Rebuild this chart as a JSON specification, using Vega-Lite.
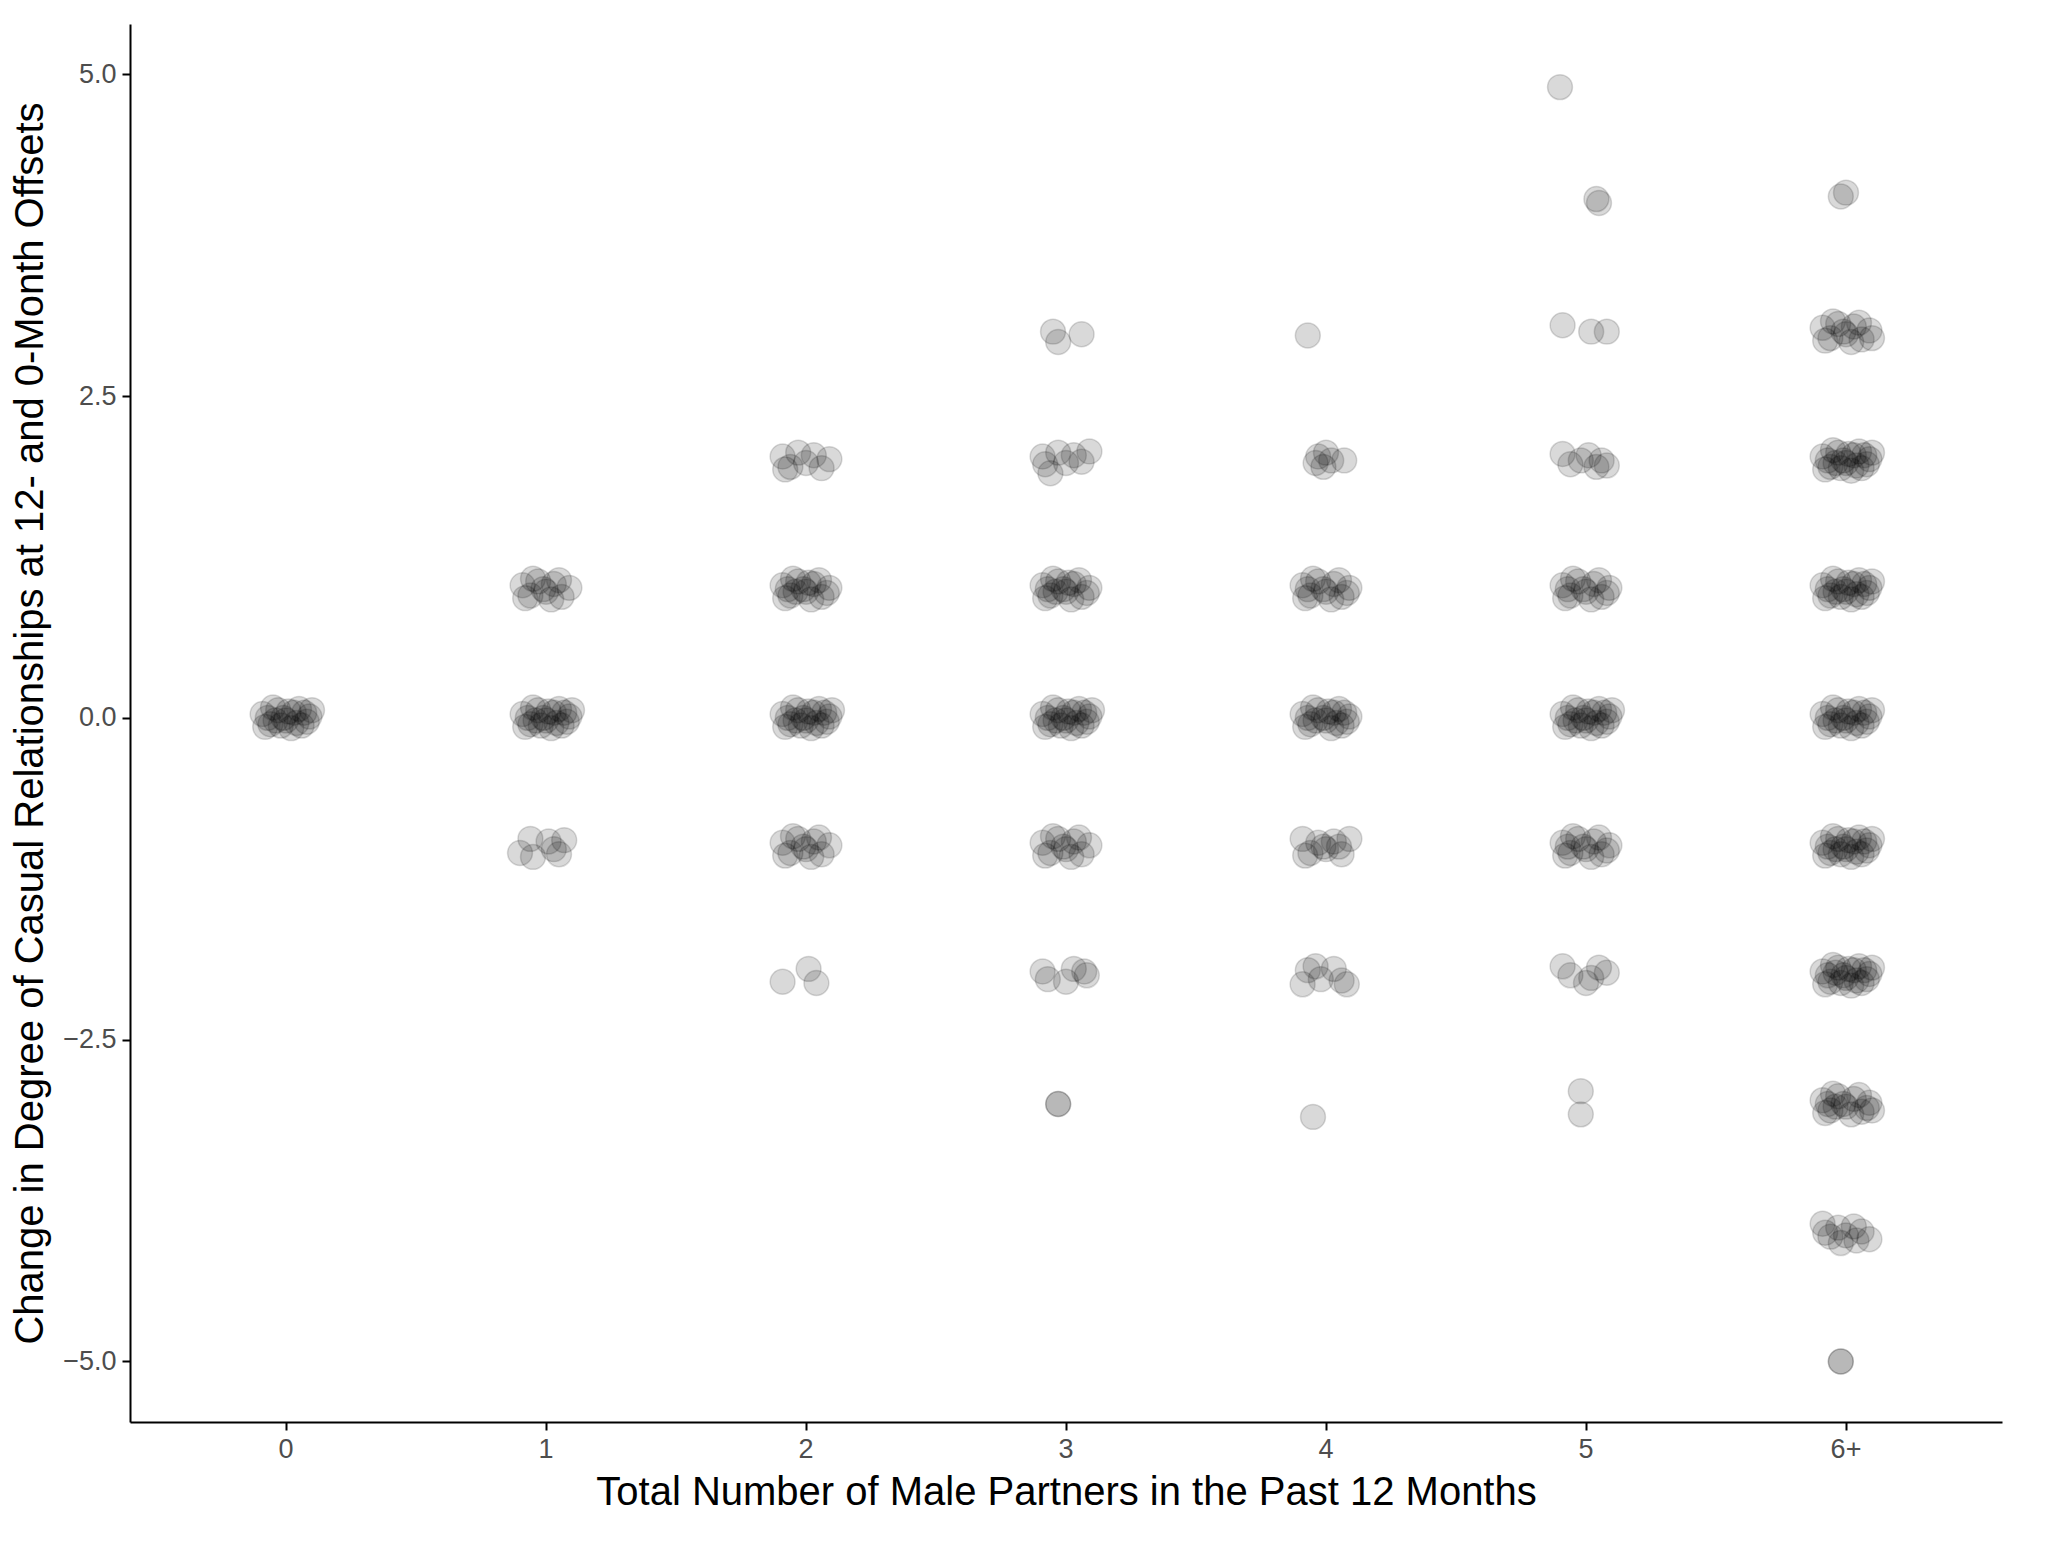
{
  "$schema": "https://vega.github.io/schema/vega-lite/v6.json",
  "width": 1872,
  "height": 1398,
  "padding": {"left": 10, "top": 24, "right": 15, "bottom": 10},
  "background": "white",
  "config": {"view": {"stroke": null}, "font": "Liberation Sans"},
  "data": {
    "format": {"type": "csv"},
    "values": "c,dx,y\n0,-0.09,0.03\n0,-0.06,-0.05\n0,-0.03,0.06\n0,0,-0.02\n0,0.03,0.04\n0,0.06,-0.06\n0,0.09,0.01\n0,-0.08,-0.07\n0,-0.05,0.08\n0,-0.01,0\n0,0.02,-0.08\n0,0.05,0.07\n0,0.08,-0.03\n0,-0.07,0\n0,-0.04,-0.02\n0,0.01,0.05\n0,0.04,-0.04\n0,0.07,0.04\n0,-0.02,-0.06\n0,0.1,0.06\n1,-0.09,1.03\n1,-0.06,0.95\n1,-0.03,1.06\n1,0,0.98\n1,0.03,1.04\n1,0.06,0.94\n1,0.09,1.01\n1,-0.08,0.93\n1,-0.05,1.08\n1,-0.01,1\n1,0.02,0.92\n1,0.05,1.07\n1,-0.09,0.03\n1,-0.06,-0.05\n1,-0.03,0.06\n1,0,-0.02\n1,0.03,0.04\n1,0.06,-0.06\n1,0.09,0.01\n1,-0.08,-0.07\n1,-0.05,0.08\n1,-0.01,0\n1,0.02,-0.08\n1,0.05,0.07\n1,0.08,-0.03\n1,-0.07,0\n1,-0.04,-0.02\n1,0.01,0.05\n1,0.04,-0.04\n1,0.07,0.04\n1,-0.02,-0.06\n1,0.1,0.06\n1,-0.1,-1.05\n1,-0.06,-0.94\n1,-0.05,-1.08\n1,0.01,-0.96\n1,0.03,-1.02\n1,0.05,-1.06\n1,0.07,-0.95\n2,-0.09,2.03\n2,-0.06,1.95\n2,-0.03,2.06\n2,0,1.98\n2,0.03,2.04\n2,0.06,1.94\n2,0.09,2.01\n2,-0.08,1.93\n2,-0.09,1.03\n2,-0.06,0.95\n2,-0.03,1.06\n2,0,0.98\n2,0.03,1.04\n2,0.06,0.94\n2,0.09,1.01\n2,-0.08,0.93\n2,-0.05,1.08\n2,-0.01,1\n2,0.02,0.92\n2,0.05,1.07\n2,0.08,0.97\n2,-0.07,1\n2,-0.04,0.98\n2,0.01,1.05\n2,-0.09,0.03\n2,-0.06,-0.05\n2,-0.03,0.06\n2,0,-0.02\n2,0.03,0.04\n2,0.06,-0.06\n2,0.09,0.01\n2,-0.08,-0.07\n2,-0.05,0.08\n2,-0.01,0\n2,0.02,-0.08\n2,0.05,0.07\n2,0.08,-0.03\n2,-0.07,0\n2,-0.04,-0.02\n2,0.01,0.05\n2,0.04,-0.04\n2,0.07,0.04\n2,-0.02,-0.06\n2,0.1,0.06\n2,-0.09,-0.97\n2,-0.06,-1.05\n2,-0.03,-0.94\n2,0,-1.02\n2,0.03,-0.96\n2,0.06,-1.06\n2,0.09,-0.99\n2,-0.08,-1.07\n2,-0.05,-0.92\n2,-0.01,-1\n2,0.02,-1.08\n2,0.05,-0.93\n2,-0.09,-2.05\n2,0.01,-1.95\n2,0.04,-2.06\n3,-0.05,3.0\n3,-0.03,2.92\n3,0.06,2.98\n3,-0.09,2.03\n3,-0.06,1.9\n3,-0.03,2.06\n3,0,1.98\n3,0.03,2.04\n3,0.06,1.99\n3,0.09,2.07\n3,-0.08,1.97\n3,-0.09,1.03\n3,-0.06,0.95\n3,-0.03,1.06\n3,0,0.98\n3,0.03,1.04\n3,0.06,0.94\n3,0.09,1.01\n3,-0.08,0.93\n3,-0.05,1.08\n3,-0.01,1\n3,0.02,0.92\n3,0.05,1.07\n3,0.08,0.97\n3,-0.07,1\n3,-0.04,0.98\n3,0.01,1.05\n3,-0.09,0.03\n3,-0.06,-0.05\n3,-0.03,0.06\n3,0,-0.02\n3,0.03,0.04\n3,0.06,-0.06\n3,0.09,0.01\n3,-0.08,-0.07\n3,-0.05,0.08\n3,-0.01,0\n3,0.02,-0.08\n3,0.05,0.07\n3,0.08,-0.03\n3,-0.07,0\n3,-0.04,-0.02\n3,0.01,0.05\n3,0.04,-0.04\n3,0.07,0.04\n3,-0.02,-0.06\n3,0.1,0.06\n3,-0.09,-0.97\n3,-0.06,-1.05\n3,-0.03,-0.94\n3,0,-1.02\n3,0.03,-0.96\n3,0.06,-1.06\n3,0.09,-0.99\n3,-0.08,-1.07\n3,-0.05,-0.92\n3,-0.01,-1\n3,0.02,-1.08\n3,0.05,-0.93\n3,-0.09,-1.97\n3,-0.07,-2.03\n3,0.0,-2.05\n3,0.03,-1.95\n3,0.07,-1.97\n3,0.08,-2.0\n3,-0.03,-3.0\n3,-0.03,-3.0\n4,-0.07,2.97\n4,-0.03,2.03\n4,-0.01,1.95\n4,0.0,2.06\n4,0.02,2.0\n4,0.07,2.0\n4,-0.04,1.98\n4,-0.09,1.03\n4,-0.06,0.95\n4,-0.03,1.06\n4,0,0.98\n4,0.03,1.04\n4,0.06,0.94\n4,0.09,1.01\n4,-0.08,0.93\n4,-0.05,1.08\n4,-0.01,1\n4,0.02,0.92\n4,0.05,1.07\n4,0.08,0.97\n4,-0.07,1\n4,-0.09,0.03\n4,-0.06,-0.05\n4,-0.03,0.06\n4,0,-0.02\n4,0.03,0.04\n4,0.06,-0.06\n4,0.09,0.01\n4,-0.08,-0.07\n4,-0.05,0.08\n4,-0.01,0\n4,0.02,-0.08\n4,0.05,0.07\n4,0.08,-0.03\n4,-0.07,0\n4,-0.04,-0.02\n4,0.01,0.05\n4,0.04,-0.04\n4,0.07,0.04\n4,-0.09,-0.94\n4,-0.06,-1.05\n4,-0.03,-0.97\n4,0,-1.02\n4,0.03,-0.96\n4,0.06,-1.06\n4,0.09,-0.94\n4,-0.08,-1.07\n4,-0.01,-1.0\n4,0.05,-1.0\n4,-0.09,-2.07\n4,-0.07,-1.96\n4,-0.04,-1.93\n4,-0.02,-2.03\n4,0.03,-1.95\n4,0.06,-2.04\n4,0.08,-2.07\n4,-0.05,-3.1\n5,-0.1,4.9\n5,0.04,4.03\n5,0.05,4.0\n5,-0.09,3.05\n5,0.02,3.0\n5,0.08,3.0\n5,-0.09,2.05\n5,-0.06,1.97\n5,-0.02,2.0\n5,0.01,2.04\n5,0.04,1.95\n5,0.06,2.0\n5,0.08,1.96\n5,-0.09,1.03\n5,-0.06,0.95\n5,-0.03,1.06\n5,0,0.98\n5,0.03,1.04\n5,0.06,0.94\n5,0.09,1.01\n5,-0.08,0.93\n5,-0.05,1.08\n5,-0.01,1\n5,0.02,0.92\n5,0.05,1.07\n5,0.08,0.97\n5,-0.07,1\n5,-0.09,0.03\n5,-0.06,-0.05\n5,-0.03,0.06\n5,0,-0.02\n5,0.03,0.04\n5,0.06,-0.06\n5,0.09,0.01\n5,-0.08,-0.07\n5,-0.05,0.08\n5,-0.01,0\n5,0.02,-0.08\n5,0.05,0.07\n5,0.08,-0.03\n5,-0.07,0\n5,-0.04,-0.02\n5,0.01,0.05\n5,0.04,-0.04\n5,0.07,0.04\n5,-0.02,-0.06\n5,0.1,0.06\n5,-0.09,-0.97\n5,-0.06,-1.05\n5,-0.03,-0.94\n5,0,-1.02\n5,0.03,-0.96\n5,0.06,-1.06\n5,0.09,-0.99\n5,-0.08,-1.07\n5,-0.05,-0.92\n5,-0.01,-1\n5,0.02,-1.08\n5,0.05,-0.93\n5,0.08,-1.03\n5,-0.07,-1\n5,-0.09,-1.93\n5,-0.06,-2.0\n5,0.0,-2.06\n5,0.02,-2.02\n5,0.05,-1.94\n5,0.08,-1.98\n5,-0.02,-2.9\n5,-0.02,-3.08\n6,-0.02,4.05\n6,0.0,4.08\n6,-0.09,3.03\n6,-0.06,2.95\n6,-0.03,3.06\n6,0,2.98\n6,0.03,3.04\n6,0.06,2.94\n6,0.09,3.01\n6,-0.08,2.93\n6,-0.05,3.08\n6,-0.01,3\n6,0.02,2.92\n6,0.05,3.07\n6,0.1,2.95\n6,-0.09,2.03\n6,-0.06,1.95\n6,-0.03,2.06\n6,0,1.98\n6,0.03,2.04\n6,0.06,1.94\n6,0.09,2.01\n6,-0.08,1.93\n6,-0.05,2.08\n6,-0.01,2\n6,0.02,1.92\n6,0.05,2.07\n6,0.08,1.97\n6,-0.07,2\n6,-0.04,1.98\n6,0.01,2.05\n6,0.04,1.96\n6,0.07,2.04\n6,-0.02,1.94\n6,0.1,2.06\n6,-0.09,1.03\n6,-0.06,0.95\n6,-0.03,1.06\n6,0,0.98\n6,0.03,1.04\n6,0.06,0.94\n6,0.09,1.01\n6,-0.08,0.93\n6,-0.05,1.08\n6,-0.01,1\n6,0.02,0.92\n6,0.05,1.07\n6,0.08,0.97\n6,-0.07,1\n6,-0.04,0.98\n6,0.01,1.05\n6,0.04,0.96\n6,0.07,1.04\n6,-0.02,0.94\n6,0.1,1.06\n6,-0.09,0.03\n6,-0.06,-0.05\n6,-0.03,0.06\n6,0,-0.02\n6,0.03,0.04\n6,0.06,-0.06\n6,0.09,0.01\n6,-0.08,-0.07\n6,-0.05,0.08\n6,-0.01,0\n6,0.02,-0.08\n6,0.05,0.07\n6,0.08,-0.03\n6,-0.07,0\n6,-0.04,-0.02\n6,0.01,0.05\n6,0.04,-0.04\n6,0.07,0.04\n6,-0.02,-0.06\n6,0.1,0.06\n6,-0.09,-0.97\n6,-0.06,-1.05\n6,-0.03,-0.94\n6,0,-1.02\n6,0.03,-0.96\n6,0.06,-1.06\n6,0.09,-0.99\n6,-0.08,-1.07\n6,-0.05,-0.92\n6,-0.01,-1\n6,0.02,-1.08\n6,0.05,-0.93\n6,0.08,-1.03\n6,-0.07,-1\n6,-0.04,-1.02\n6,0.01,-0.95\n6,0.04,-1.04\n6,0.07,-0.96\n6,-0.02,-1.06\n6,0.1,-0.94\n6,-0.09,-1.97\n6,-0.06,-2.05\n6,-0.03,-1.94\n6,0,-2.02\n6,0.03,-1.96\n6,0.06,-2.06\n6,0.09,-1.99\n6,-0.08,-2.07\n6,-0.05,-1.92\n6,-0.01,-2\n6,0.02,-2.08\n6,0.05,-1.93\n6,0.08,-2.03\n6,-0.07,-2\n6,-0.04,-1.98\n6,0.01,-1.95\n6,0.04,-2.04\n6,0.07,-1.96\n6,-0.02,-2.06\n6,0.1,-1.94\n6,-0.09,-2.97\n6,-0.06,-3.05\n6,-0.03,-2.94\n6,0,-3.02\n6,0.03,-2.96\n6,0.06,-3.06\n6,0.09,-2.99\n6,-0.08,-3.07\n6,-0.05,-2.92\n6,-0.01,-3\n6,0.02,-3.08\n6,0.05,-2.93\n6,0.08,-3.03\n6,-0.07,-3\n6,-0.04,-3.02\n6,0.1,-3.05\n6,-0.09,-3.93\n6,-0.06,-4.03\n6,-0.03,-3.96\n6,0,-4.02\n6,0.03,-3.95\n6,0.06,-3.99\n6,0.09,-4.05\n6,-0.08,-4.0\n6,-0.02,-4.08\n6,0.04,-4.06\n6,-0.02,-5.0\n6,-0.02,-5.0"
  },
  "mark": {
    "type": "circle",
    "size": 620,
    "color": "black",
    "fillOpacity": 0.15,
    "stroke": "black",
    "strokeOpacity": 0.15,
    "strokeWidth": 1.5
  },
  "encoding": {
    "x": {
      "field": "c",
      "type": "ordinal",
      "sort": ["0", "1", "2", "3", "4", "5", "6"],
      "scale": {"paddingInner": 0, "paddingOuter": 0.1},
      "axis": {
        "title": "Total Number of Male Partners in the Past 12 Months",
        "titleFontSize": 40,
        "titleFontWeight": "normal",
        "titleColor": "black",
        "titlePadding": 10,
        "labelExpr": "datum.value == '6' ? '6+' : datum.value",
        "labelAngle": 0,
        "labelFontSize": 27,
        "labelColor": "#4d4d4d",
        "labelPadding": 6,
        "tickSize": 8,
        "tickColor": "black",
        "domainColor": "black",
        "domainWidth": 2,
        "tickWidth": 2,
        "grid": false
      }
    },
    "xOffset": {
      "field": "dx",
      "type": "quantitative",
      "scale": {"domain": [-0.5, 0.5]}
    },
    "y": {
      "field": "y",
      "type": "quantitative",
      "scale": {"domain": [-5.47, 5.39], "nice": false, "zero": false},
      "axis": {
        "title": "Change in Degree of Casual Relationships at 12- and 0-Month Offsets",
        "titleFontSize": 40,
        "titleFontWeight": "normal",
        "titleColor": "black",
        "titlePadding": 12,
        "values": [-5, -2.5, 0, 2.5, 5],
        "format": ".1f",
        "labelFontSize": 27,
        "labelColor": "#4d4d4d",
        "labelPadding": 6,
        "tickSize": 8,
        "tickColor": "black",
        "domainColor": "black",
        "domainWidth": 2,
        "tickWidth": 2,
        "grid": false
      }
    }
  }
}
